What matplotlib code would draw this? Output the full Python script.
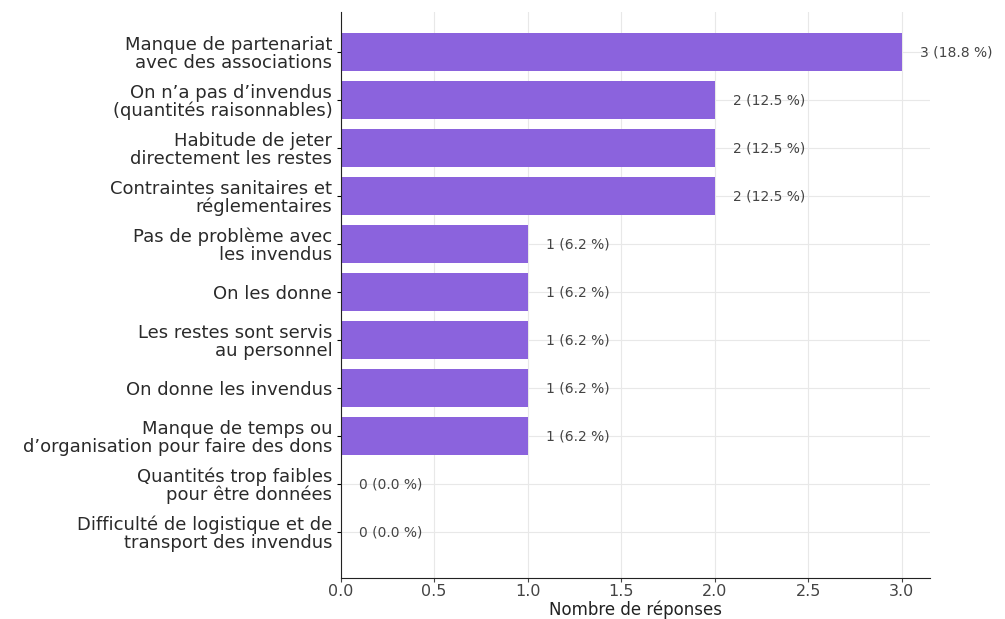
import matplotlib.pyplot as plt

categories = [
    "Manque de partenariat\navec des associations",
    "On n\u2019a pas d\u2019invendus\n(quantités raisonnables)",
    "Habitude de jeter\ndirectement les restes",
    "Contraintes sanitaires et\nréglementaires",
    "Pas de problème avec\nles invendus",
    "On les donne",
    "Les restes sont servis\nau personnel",
    "On donne les invendus",
    "Manque de temps ou\nd\u2019organisation pour faire des dons",
    "Quantités trop faibles\npour être données",
    "Difficulté de logistique et de\ntransport des invendus",
]
counts = [3, 2, 2, 2, 1, 1, 1, 1, 1, 0, 0]
n_respondents = 16

fig = plt.figure(figsize=(10.05, 6.19), dpi=100)
ax = fig.add_axes([0.339, 0.066, 0.586, 0.914])

y = range(len(categories))
ax.barh(y, counts, height=0.8, color="#8b63dd", zorder=2)
ax.set_yticks(list(y))
ax.set_yticklabels(categories, fontsize=13, color="#2a2a2a", linespacing=0.98)
ax.set_ylim(len(categories) - 1 + 0.96, -0.83)
ax.set_xlim(0, max(counts) * 1.05)
ax.set_xticks([0, 0.5, 1, 1.5, 2, 2.5, 3])
ax.set_xticklabels(["0.0", "0.5", "1.0", "1.5", "2.0", "2.5", "3.0"])
ax.tick_params(axis="x", labelsize=11.5, colors="#444444", length=3, pad=1)
ax.tick_params(axis="y", length=3, pad=3)
ax.set_xlabel("Nombre de réponses", fontsize=12, color="#222222", labelpad=1)

ax.grid(True, color="#e8e8e8", linewidth=0.8, zorder=1)
ax.set_axisbelow(True)
for s in ["top", "right"]:
    ax.spines[s].set_visible(False)
ax.spines["left"].set_color("#222222")
ax.spines["bottom"].set_color("#222222")

for i, v in enumerate(counts):
    pct = v / n_respondents * 100
    ax.text(v + 0.1, i, f"{v} ({pct:.1f} %)", va="center", ha="left",
            fontsize=10, color="#444444", zorder=4)

fig.savefig("out.png", dpi=100)
